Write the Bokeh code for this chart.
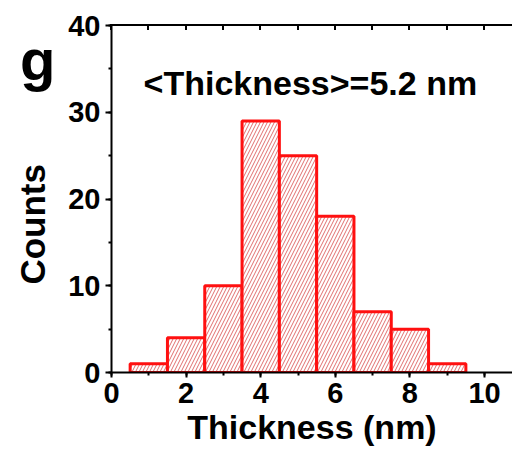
from bokeh.plotting import figure
from bokeh.models import LinearAxis, SingleIntervalTicker, Range1d, Label, Div, GridBox
from bokeh.embed import file_html
from bokeh.resources import INLINE

# Thickness histogram (bin centres in nm, counts per 1 nm bin)
bin_centers = [1, 2, 3, 4, 5, 6, 7, 8, 9]
counts = [1, 4, 10, 29, 25, 18, 7, 5, 1]
bin_width = 1.0
mean_thickness = 5.2
top_tick_positions = [0, 1, 2, 3, 4, 5, 6, 7, 8, 9, 10]
panel_letter = "g"
y_title = "Counts"
x_title = "Thickness (nm)"

FONT = "Liberation Sans"
X_MAX = 10.75
Y_MAX = 40
LEFT, TOP, BOTTOM = 111, 25, 79   # plot-area borders in px
WIDTH, HEIGHT = 512, 451
FRAME_W = WIDTH - LEFT

p = figure(
    width=WIDTH, height=HEIGHT,
    x_range=Range1d(0, X_MAX), y_range=Range1d(0, Y_MAX),
    output_backend="svg", toolbar_location=None,
    min_border_left=LEFT, min_border_top=TOP, min_border_bottom=BOTTOM, min_border_right=0,
    x_axis_location=None, y_axis_location=None,
)
p.grid.visible = False
p.outline_line_color = None
# transparent plot so the margin overlay shows wherever it sits in the stack
p.background_fill_color = None
p.border_fill_color = None

p.vbar(
    x=bin_centers, top=counts, width=bin_width, bottom=0,
    fill_color="white", line_color="#ff1010", line_width=3,
    hatch_pattern="/", hatch_color="#d84a4a", hatch_scale=7, hatch_weight=1, hatch_alpha=0.8,
)


def style_axis(ax):
    ax.axis_line_width = 2
    ax.axis_line_color = "black"
    ax.major_tick_line_width = 2
    ax.minor_tick_line_width = 2
    ax.major_label_text_font = FONT
    ax.major_label_text_font_style = "bold"
    ax.major_label_text_font_size = "29px"
    ax.major_label_text_color = "black"
    ax.axis_label_text_font = FONT
    ax.axis_label_text_font_style = "bold"
    ax.axis_label_text_font_size = "34px"
    ax.axis_label_text_color = "black"


xb = LinearAxis(ticker=SingleIntervalTicker(interval=2, num_minor_ticks=2), axis_label=x_title)
style_axis(xb)
xb.major_tick_out = 5
xb.major_tick_in = 0
xb.minor_tick_out = 3
xb.minor_tick_in = 0
xb.major_label_standoff = 5
xb.axis_label_standoff = 2
p.add_layout(xb, "below")

yl = LinearAxis(ticker=SingleIntervalTicker(interval=10, num_minor_ticks=2))
style_axis(yl)
yl.major_tick_out = 6
yl.major_tick_in = 0
yl.minor_tick_out = 3
yl.minor_tick_in = 0
yl.major_label_standoff = 5
p.add_layout(yl, "left")

p.add_layout(Label(
    x=0.86, y=33.4, text=f"<Thickness>={mean_thickness} nm",
    text_font=FONT, text_font_style="bold", text_font_size="34px",
    text_color="black", text_baseline="alphabetic",
))

# top spine with short inward ticks, positioned with the same x scale as the frame
px_per_unit = FRAME_W / X_MAX
top_ticks_html = "".join(
    f'<div style="position: absolute; left: {LEFT + t * px_per_unit - 1:.1f}px; top: {TOP}px; '
    f'width: 2px; height: 5px; background-color: #000;"></div>'
    for t in top_tick_positions
)

overlay_html = f"""
<div style="position: relative; width: {WIDTH}px; height: {HEIGHT}px; font-family: '{FONT}';
            font-weight: bold; color: black; pointer-events: none;">
  <div style="position: absolute; left: {LEFT - 1}px; top: {TOP - 1}px; width: {FRAME_W + 1}px;
              height: 2px; background-color: #000;"></div>
  {top_ticks_html}
  <div style="position: absolute; left: 20px; top: 31px; font-size: 58px; line-height: 58px;">{panel_letter}</div>
  <div style="position: absolute; left: 15px; top: 164px; font-size: 35px; line-height: 35px;
              writing-mode: vertical-rl; transform: rotate(180deg); white-space: nowrap;">{y_title}</div>
</div>
"""
overlay = Div(text=overlay_html, width=WIDTH, height=HEIGHT, margin=0,
              styles={"z-index": "10"})

layout = GridBox(children=[(p, 0, 0), (overlay, 0, 0)])

open("out.html", "w").write(file_html(layout, INLINE))
